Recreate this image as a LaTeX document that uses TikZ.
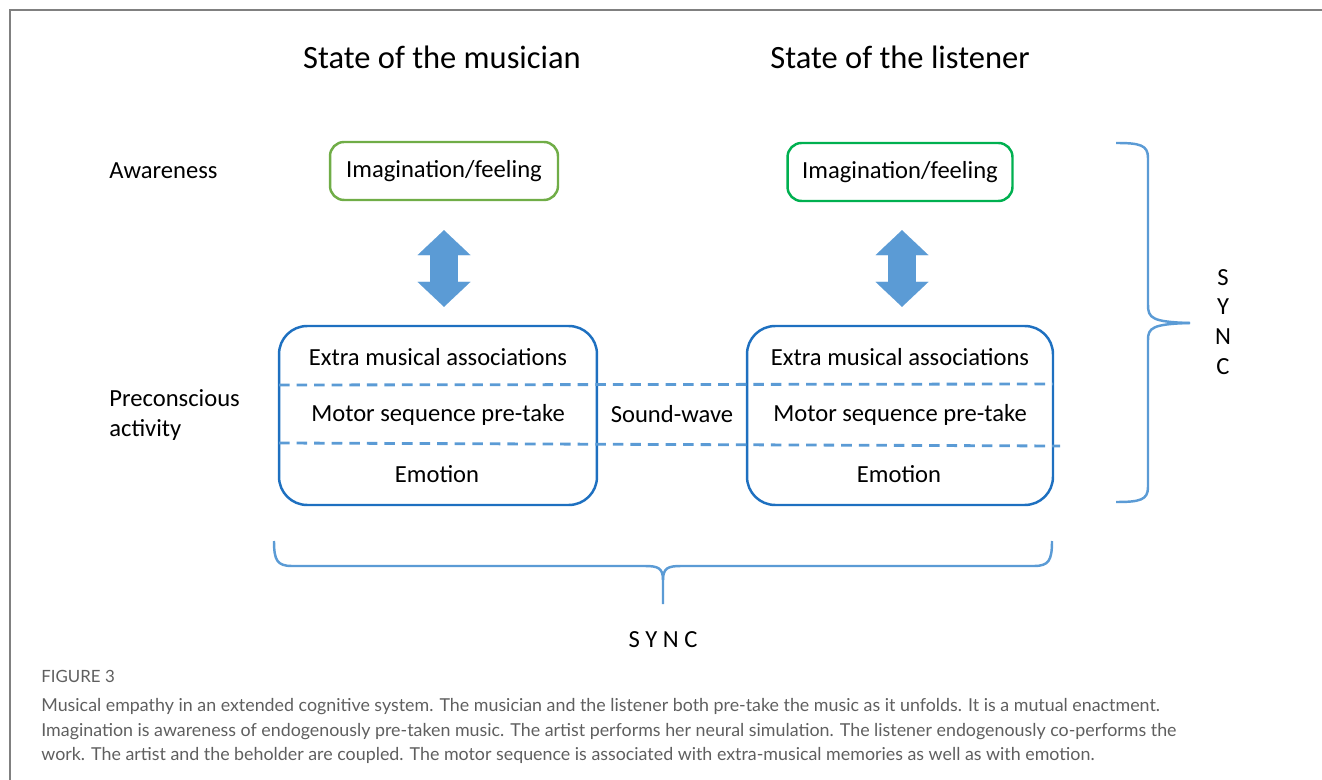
\documentclass[tikz,border=0pt]{standalone}
\usepackage{fontspec}
\setmainfont{Carlito}
\newfontfamily\capfont{Lato}
\usetikzlibrary{positioning,arrows.meta,calc}
\definecolor{boxblue}{RGB}{30,112,192}
\definecolor{paleblue}{RGB}{91,155,213}
\definecolor{leafgreen}{RGB}{112,173,71}
\definecolor{brightgreen}{RGB}{0,176,80}
\definecolor{framegray}{RGB}{128,128,128}
\definecolor{capgray}{RGB}{95,95,95}
\tikzset{
  heading/.style={font=\fontsize{18.5}{22}\selectfont,inner sep=0pt},
  sidetext/.style={anchor=west,align=left,inner sep=0pt,font=\fontsize{14}{17}\selectfont},
  feelbox/.style={draw=#1,rounded corners=8pt,line width=1.4pt,minimum height=1.16cm,font=\fontsize{14}{16}\selectfont,fill=white},
  layerbox/.style={draw=boxblue,rounded corners=16pt,line width=1.4pt,minimum height=3.58cm},
  layertext/.style={font=\fontsize{14}{16}\selectfont,inner sep=0pt},
  dashline/.style={draw=paleblue,line width=1.6pt,dash pattern=on 6pt off 4pt},
  bothway/.style={draw=paleblue,line width=0.56cm,{Triangle[width=1.06cm,length=0.5cm,line width=0.01pt]}-{Triangle[width=1.06cm,length=0.5cm,line width=0.01pt]}},
  bracket/.style={draw=paleblue,line width=1.4pt}
}

\begin{document}
\begin{tikzpicture}[x=0.02cm,y=-0.02cm]
\useasboundingbox (0,0) rectangle (1322,780);
% outer frame
\draw[framegray,line width=1.1pt] (10,780) -- (10,10) -- (1322,10);

% headings
\node[heading] (headM) at (442,57) {State of the musician};
\node[heading] (headL) at (900,57) {State of the listener};

\node[sidetext] (aware) at (109,171) {Awareness};
\node[sidetext] (precon) at (109,415) {Preconscious\\activity};

% awareness boxes
\node[feelbox=leafgreen,minimum width=4.56cm] (imM) at (444,171) {Imagination/feeling};
\node[feelbox=brightgreen,minimum width=4.5cm] (imL) at (900,172) {Imagination/feeling};

% preconscious boxes
\node[layerbox,minimum width=6.36cm] (musbox) at (438,415.5) {};
\node[layerbox,minimum width=6.12cm] (lisbox) at (900,415.5) {};

\node[layertext] (extraM) at (438,357) {Extra musical associations};
\node[layertext] (motorM) at (438,415) {Motor sequence pre-take};
\node[layertext] (emoM) at (437,474) {Emotion};
\node[layertext] (extraL) at (900,357) {Extra musical associations};
\node[layertext] (motorL) at (900,415) {Motor sequence pre-take};
\node[layertext] (emoL) at (899,474) {Emotion};
\node[layertext] (wave) at (672,414) {Sound-wave};

\coordinate (dashA1) at (279,385);
\coordinate (dashA2) at (1053,384);
\coordinate (dashB1) at (279,443);
\coordinate (dashB2) at (1060,446);
\draw[dashline] (dashA1) -- (dashA2);
\draw[dashline] (dashB1) -- (dashB2);

% two way arrows
\draw[bothway,shorten <=0.58cm,shorten >=0.36cm] (imM.south) -- (imM.south |- musbox.north);
\draw[bothway,shorten <=0.56cm,shorten >=0.36cm] ([xshift=0.04cm]imL.south) -- ([xshift=0.04cm]imL.south |- lisbox.north);

% braces
\draw[bracket] (1116,143) .. controls (1140,143) and (1148,145) .. (1148,158) -- (1148,305)
  .. controls (1148,318) and (1152,322) .. (1190,323);
\draw[bracket] (1190,323) .. controls (1152,324) and (1148,328) .. (1148,340) -- (1148,487)
  .. controls (1148,500) and (1140,502) .. (1116,502);
\node[layertext,align=center,font=\fontsize{14}{17}\selectfont] (syncR) at (1223,322) {S\\Y\\N\\C};

\draw[bracket] (274,541) .. controls (274,560) and (277,566) .. (292,566) -- (645,566)
  .. controls (658,566) and (663,568) .. (663,580) -- (663,604);
\draw[bracket] (663,580) .. controls (663,568) and (668,566) .. (681,566) -- (1034,566)
  .. controls (1049,566) and (1052,560) .. (1052,541);
\node[layertext] (syncB) at (663,640) {S Y N C};

% caption
\node[anchor=base west,inner sep=0pt,text=capgray,font=\capfont\fontsize{9.6}{10}\selectfont] (fig) at (41,682) {FIGURE 3};
\node[anchor=west,align=left,inner sep=0pt,text=capgray,font=\capfont\fontsize{10.15}{14.2}\selectfont] (caption) at (41,731)
{Musical empathy in an extended cognitive system. The musician and the listener both pre-take the music as it unfolds. It is a mutual enactment.\\
Imagination is awareness of endogenously pre-taken music. The artist performs her neural simulation. The listener endogenously co-performs the\\
work. The artist and the beholder are coupled. The motor sequence is associated with extra-musical memories as well as with emotion.};
\end{tikzpicture}
\end{document}
